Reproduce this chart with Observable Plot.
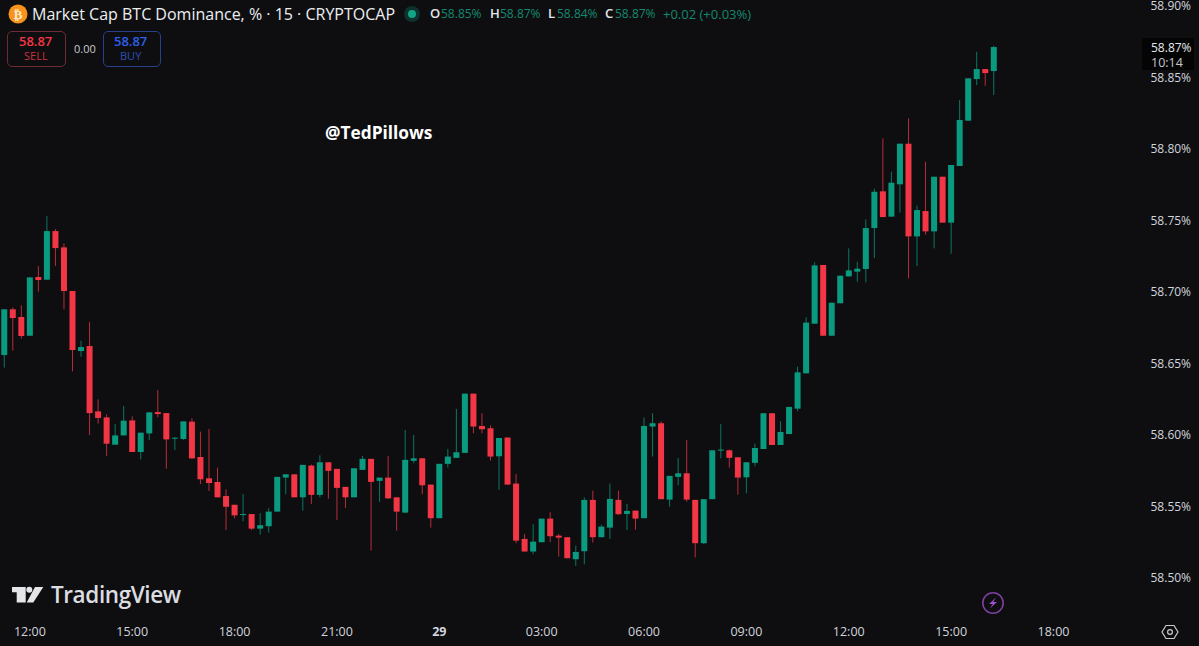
<!DOCTYPE html>
<html>
<head>
<meta charset="utf-8">
<script src="https://cdn.jsdelivr.net/npm/d3@7"></script>
<script src="https://cdn.jsdelivr.net/npm/@observablehq/plot@0.6"></script>
<style>
html,body{margin:0;padding:0;background:#0e0e10;width:1199px;height:646px;overflow:hidden}
#wrap{position:relative;width:1199px;height:646px;font-family:"Open Sans",sans-serif}
#wrap svg.plot{position:absolute;left:0;top:0;background:#0e0e10}
.t{position:absolute;white-space:pre;line-height:1}
.box{position:absolute;box-sizing:border-box;border-radius:5px;border:1.5px solid;text-align:center}
</style>
</head>
<body>
<div id="wrap"></div>
<script>
const firstBarOffset = -3;
// Market Cap BTC Dominance, %, 15 minute bars
const opens = [58.6552,58.6872,58.6818,58.6687,58.7098,58.7079,58.7419,58.7305,58.7000,58.6580,58.6615,58.6158,58.6116,58.5925,58.5990,58.6095,58.5874,58.6004,58.6153,58.6146,58.5967,58.5965,58.6086,58.5839,58.5690,58.5664,58.5566,58.5505,58.5433,58.5440,
58.5338,58.5355,58.5457,58.5695,58.5718,58.5557,58.5779,58.5574,58.5802,58.5756,58.5630,58.5557,58.5749,58.5826,58.5672,58.5695,58.5557,58.5450,58.5812,58.5830,58.5646,58.5411,58.5791,58.5833,58.5868,58.6282,58.6056,58.6040,58.5844,58.5975,
58.5653,58.5266,58.5178,58.5243,58.5408,58.5289,58.5278,58.5124,58.5180,58.5539,58.5278,58.5345,58.5539,58.5441,58.5464,58.5411,58.6052,58.6075,58.5541,58.5700,58.5725,58.5539,58.5236,58.5544,58.5884,58.5886,58.5837,58.5697,58.5798,58.5895,
58.6145,58.5923,58.6000,58.6177,58.6424,58.6771,58.7182,58.6687,58.6914,58.7102,58.7135,58.7154,58.7440,58.7697,58.7520,58.7746,58.8030,58.7382,58.7559,58.7417,58.7799,58.7478,58.7874,58.8191,58.8482,58.8552,58.8538];
const closes = [58.6872,58.6811,58.6685,58.7095,58.7077,58.7419,58.7300,58.7000,58.6587,58.6608,58.6146,58.6112,58.5932,58.5990,58.6093,58.5874,58.6009,58.6151,58.6139,58.5962,58.5974,58.6088,58.5829,58.5683,58.5657,58.5557,58.5491,58.5431,58.5440,58.5338,
58.5362,58.5457,58.5700,58.5718,58.5557,58.5784,58.5574,58.5802,58.5742,58.5623,58.5557,58.5760,58.5826,58.5665,58.5695,58.5550,58.5457,58.5819,58.5830,58.5641,58.5411,58.5791,58.5842,58.5872,58.6282,58.6052,58.6033,58.5842,58.5972,58.5646,
58.5254,58.5178,58.5247,58.5408,58.5285,58.5275,58.5131,58.5175,58.5539,58.5278,58.5352,58.5546,58.5439,58.5462,58.5408,58.6056,58.6075,58.5544,58.5707,58.5725,58.5541,58.5236,58.5544,58.5886,58.5891,58.5833,58.5695,58.5802,58.5902,58.6145,
58.5923,58.6014,58.6189,58.6431,58.6779,58.7179,58.6687,58.6918,58.7107,58.7144,58.7156,58.7440,58.7694,58.7517,58.7757,58.8030,58.7382,58.7566,58.7417,58.7799,58.7478,58.7881,58.8196,58.8487,58.8552,58.8524,58.8706];
const highs = [58.6872,58.6885,58.6899,58.7095,58.7174,58.7524,58.7433,58.7333,58.7000,58.6652,58.6783,58.6242,58.6137,58.6070,58.6195,58.6123,58.6009,58.6151,58.6307,58.6146,58.5976,58.6088,58.6109,58.6016,58.6035,58.5764,58.5613,58.5505,58.5580,58.5440,
58.5446,58.5481,58.5700,58.5718,58.5718,58.5784,58.5786,58.5851,58.5802,58.5756,58.5630,58.5760,58.5847,58.5826,58.5695,58.5847,58.5557,58.6028,58.5993,58.5830,58.5646,58.5791,58.5895,58.6175,58.6282,58.6282,58.6145,58.6061,58.5972,58.5975,
58.5721,58.5301,58.5369,58.5408,58.5453,58.5301,58.5278,58.5219,58.5557,58.5604,58.5364,58.5653,58.5604,58.5511,58.5464,58.6115,58.6145,58.6089,58.5707,58.5833,58.5958,58.5539,58.5544,58.5886,58.6070,58.5891,58.5837,58.5802,58.5933,58.6145,
58.6145,58.6089,58.6189,58.6471,58.6816,58.7200,58.7182,58.6918,58.7107,58.7298,58.7205,58.7501,58.7715,58.8067,58.7834,58.8030,58.8207,58.7597,58.7904,58.7799,58.7799,58.7881,58.8335,58.8487,58.8673,58.8552,58.8715];
const lows = [58.6464,58.6582,58.6666,58.6687,58.6995,58.7079,58.7174,58.6872,58.6438,58.6540,58.5993,58.6072,58.5846,58.5925,58.5990,58.5874,58.5822,58.5958,58.6116,58.5757,58.5888,58.5958,58.5829,58.5650,58.5601,58.5557,58.5328,58.5410,58.5389,58.5328,
58.5296,58.5310,58.5457,58.5578,58.5557,58.5464,58.5511,58.5557,58.5548,58.5399,58.5483,58.5557,58.5749,58.5185,58.5525,58.5546,58.5324,58.5450,58.5795,58.5578,58.5345,58.5411,58.5765,58.5833,58.5868,58.6005,58.6005,58.5814,58.5609,58.5646,
58.5236,58.5178,58.5159,58.5243,58.5243,58.5143,58.5131,58.5077,58.5089,58.5240,58.5278,58.5266,58.5434,58.5329,58.5331,58.5411,58.5842,58.5544,58.5492,58.5641,58.5527,58.5136,58.5229,58.5544,58.5830,58.5765,58.5576,58.5585,58.5774,58.5895,
58.5923,58.5923,58.6000,58.6159,58.6424,58.6771,58.6687,58.6687,58.6914,58.7102,58.7065,58.7060,58.7231,58.7517,58.7520,58.7548,58.7088,58.7175,58.7394,58.7298,58.7478,58.7261,58.7874,58.8191,58.8440,58.8436,58.8370];

const GREEN = "#0a9a80", RED = "#f23645", GRID = "#d1d4dc";
const priceTicks = [58.50,58.55,58.60,58.65,58.70,58.75,58.80,58.85,58.90];
const t0 = Date.UTC(2024,0,28,12,0);
const MIN = 60000;
const timeTicks = [0,3,6,9,12,15,18,21,24,27,30].map(h => new Date(t0 + h*60*MIN));
const timeLabels = ["12:00","15:00","18:00","21:00","29","03:00","06:00","09:00","12:00","15:00","18:00"];
const bars = opens.map((o,k)=>({
  t:new Date(t0 + (k+firstBarOffset)*15*MIN), o, c:closes[k], h:highs[k], l:lows[k], up:closes[k]>=o
}));
const color = d => d.up ? GREEN : RED;

const chart = Plot.plot({
  width:1199, height:646,
  marginLeft:0, marginRight:59, marginTop:0, marginBottom:29,
  style:{background:"#0e0e10", color:GRID, fontFamily:'"Open Sans",sans-serif'},
  x:{type:"utc", domain:[new Date(t0-51.6*MIN), new Date(t0+1953*MIN)]},
  y:{domain:[58.472,58.9035]},
  marks:[
    Plot.axisY({anchor:"right", ticks:priceTicks, tickSize:0, tickPadding:10, label:null, tickFormat:d=>d.toFixed(2)+"%", fontSize:12, dy:1, fill:GRID}),
    Plot.axisX({ticks:timeTicks, tickSize:0, tickPadding:10, label:null, tickFormat:(d,i)=>timeLabels[i], fontSize:12.5, fill:GRID}),
    Plot.ruleX(bars,{x:"t", y1:"l", y2:"h", stroke:color, strokeWidth:1, strokeOpacity:0.75}),
    Plot.ruleX(bars,{x:"t", y1:"o", y2:"c", stroke:color, strokeWidth:6})
  ]
});
const wrap = document.getElementById("wrap");
wrap.appendChild(chart);
// bold date tick
d3.select(chart).selectAll("text").filter(function(){return this.textContent==="29"}).attr("font-weight","bold");

function txt(s,x,y,size,col,extra){
  const e=document.createElement("div");e.className="t";e.textContent=s;
  e.style.cssText=`left:${x}px;top:${y}px;font-size:${size}px;color:${col};`+(extra||"");
  wrap.appendChild(e);return e;
}
function html(h){const e=document.createElement("div");e.innerHTML=h;wrap.appendChild(e.firstElementChild);}

// header
html(`<svg style="position:absolute;left:8px;top:4px" width="20" height="20"><circle cx="10" cy="10" r="9.5" fill="#f7931a"/><text x="10" y="14.5" font-size="13" font-weight="bold" text-anchor="middle" fill="#ffe9cc" font-family="DejaVu Sans">₿</text></svg>`);
txt("Market Cap BTC Dominance, % · 15 · CRYPTOCAP",32,6,16,"#eceef0");
html(`<svg style="position:absolute;left:402px;top:4px" width="20" height="20"><circle cx="10" cy="10" r="8" fill="#0a9a80" fill-opacity=".25"/><circle cx="10" cy="10" r="4" fill="#0fa586"/></svg>`);
const DIM = "#14896f";
const ohlcNames = ["O","H","L","C"], ohlcVals = ["58.85%","58.87%","58.84%","58.87%"];
const nameX = [430,490,548,605], valX = [441,500,557,615];
ohlcNames.forEach((a,k)=>{txt(a,nameX[k],7,13,"#e4e5e8","font-weight:600;");txt(ohlcVals[k],valX[k],8,12,DIM);});
txt("+0.02 (+0.03%)",663,7.500,13,DIM);

// order buttons
html(`<div class="box" style="left:7px;top:31px;width:59px;height:36px;border-color:#6e2b33"></div>`);
txt("58.87",19,35,13,"#f23645","font-weight:600;");
txt("SELL",24,50,11,"#c8323e");
txt("0.00",74,43,11,"#c9cbd1");
html(`<div class="box" style="left:103px;top:31px;width:58px;height:36px;border-color:#26408e"></div>`);
txt("58.87",114,35,13,"#2d5fe8","font-weight:600;");
txt("BUY",120,50,11,"#2a4fb8");

// watermark
txt("@TedPillows",325,124,17.3,"#ffffff","font-weight:700;");

// current price tag
html(`<div style="position:absolute;left:1142px;top:38px;width:52px;height:32px;background:#040405"></div>`);
txt("58.87%",1151,42,12,"#e6e7ea");
txt("10:14",1151,57,12.5,"#c4c6cc");

// TradingView mark
html(`<svg style="position:absolute;left:11px;top:585px" width="34" height="20"><path d="M1 2h13.700v15.500H5.700V7.300H1z M24 2h8.300L22.300 17.500H15.700z" fill="#e4e5e8"/><circle cx="18.300" cy="4.800" r="3" fill="#e4e5e8"/></svg>`);
txt("TradingView",51,584,22.5,"#dcdde1","font-weight:600;letter-spacing:-.4px;");

// lightning icon
html(`<svg style="position:absolute;left:981px;top:591px" width="24" height="24"><circle cx="12" cy="12" r="10.200" fill="none" stroke="#7d3fa0" stroke-width="1.600"/><path d="M15 6.500 8 13h3.800L9 17.500l7-6.500h-3.800z" fill="#a04fd0"/></svg>`);
// settings icon
html(`<svg style="position:absolute;left:1161px;top:623px" width="18" height="18"><path d="M5 2.500h8L17 9l-4 6.500H5L1 9z" fill="none" stroke="#c9cbd1" stroke-width="1.200"/><circle cx="9" cy="9" r="2.400" fill="none" stroke="#c9cbd1" stroke-width="1.200"/></svg>`);
</script>
</body>
</html>
